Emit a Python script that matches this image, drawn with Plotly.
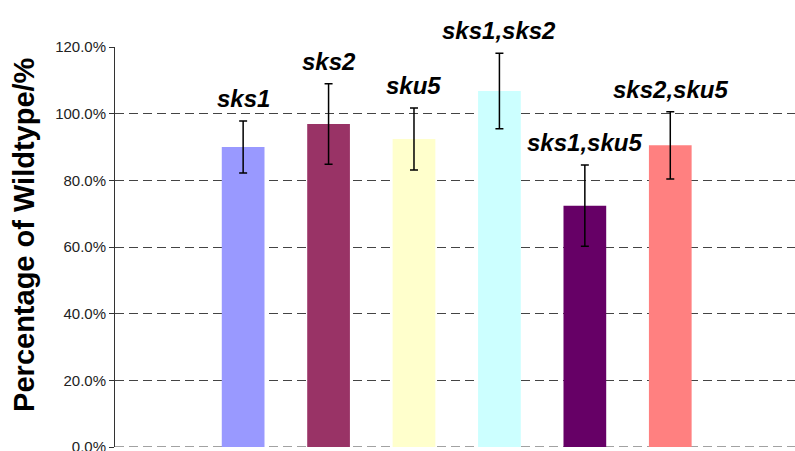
import plotly.graph_objects as go

categories = ["sks1", "sks2", "sku5", "sks1,sks2", "sks1,sku5", "sks2,sku5"]
values = [90.0, 96.9, 92.4, 106.8, 72.4, 90.5]
errors = [7.8, 12.1, 9.3, 11.3, 12.2, 10.1]
colors = ["#9999FF", "#993366", "#FFFFCC", "#CCFFFF", "#660066", "#FF8080"]
tick_vals = [0, 20, 40, 60, 80, 100, 120]
tick_text = ["0.0%", "20.0%", "40.0%", "60.0%", "80.0%", "100.0%", "120.0%"]

fig = go.Figure()
fig.add_trace(go.Bar(
    x=categories, y=values,
    marker=dict(color=colors, line=dict(width=0)),
    error_y=dict(type="data", array=errors, visible=True,
                 color="#000000", thickness=1.5, width=4),
    showlegend=False,
))

for c, v, e in zip(categories, values, errors):
    fig.add_annotation(
        x=c, y=v + e, xref="x", yref="y",
        text=c, showarrow=False, xanchor="center", yanchor="bottom",
        yshift=7,
        font=dict(family="Arial, Liberation Sans", size=24, color="#000000",
                  weight="bold", style="italic"),
    )

fig.add_annotation(
    xref="paper", yref="paper", x=-0.134, y=0.53,
    text="Percentage of Wildtype/%", textangle=-90, showarrow=False,
    xanchor="center", yanchor="middle",
    font=dict(family="Arial, Liberation Sans", size=29, color="#000000", weight="bold"),
)

# dashed baseline gridline at the bottom tick (plotly omits the edge gridline)
fig.add_shape(type="line", xref="paper", yref="y", x0=0, x1=1,
              y0=tick_vals[0], y1=tick_vals[0],
              line=dict(color="#444444", width=1, dash="9px,5px"), layer="below")

fig.update_layout(
    width=795, height=451,
    margin=dict(l=115, r=0, t=47, b=4),
    paper_bgcolor="white", plot_bgcolor="white",
    bargap=0.5,
    xaxis=dict(range=[-1.5, 6.46], showticklabels=False, showgrid=False,
               zeroline=False, showline=False, ticks=""),
    yaxis=dict(range=[0, 120], tickvals=tick_vals, ticktext=tick_text,
               automargin=False,
               showgrid=True, gridcolor="#444444", griddash="9px,5px", gridwidth=1,
               zeroline=False, showline=True, linecolor="#333333", linewidth=1,
               ticks="outside", ticklen=5, tickcolor="#333333",
               ticklabeloverflow="allow",
               tickfont=dict(family="Liberation Sans Narrow, Arial Narrow, Liberation Sans",
                             size=15, color="#222222")),
)

fig.write_html("out.html", config={"displayModeBar": False},
               post_script="document.body.style.margin='0';document.body.style.overflow='hidden';")
